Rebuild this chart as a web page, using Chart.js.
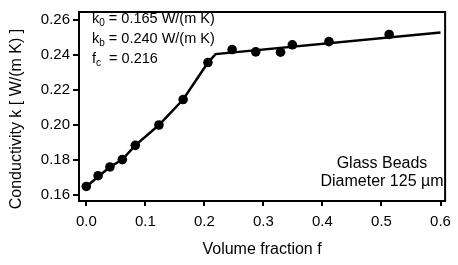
<!DOCTYPE html>
<html>
<head>
<meta charset="utf-8">
<script src="https://cdn.jsdelivr.net/npm/chart.js@4/dist/chart.umd.min.js"></script>
<style>
  html, body { margin: 0; padding: 0; background: #fff; }
  #wrap { width: 458px; height: 265px; }
</style>
</head>
<body>
<div id="wrap"><canvas id="c" width="458" height="265"></canvas></div>
<script>
// Measured data points: volume fraction f and conductivity k [W/(m K)]
const pointF = [0.000, 0.020, 0.040, 0.061, 0.083, 0.123, 0.164, 0.206, 0.247, 0.287, 0.329, 0.349, 0.411, 0.513];
const pointK = [0.1650, 0.1711, 0.1761, 0.1803, 0.1884, 0.2000, 0.2145, 0.2356, 0.2430, 0.2417, 0.2415, 0.2457, 0.2475, 0.2516];

// Model curve
const curveF = [0.000, 0.040, 0.061, 0.083, 0.123, 0.164, 0.206, 0.219, 0.600];
const curveK = [0.1650, 0.1761, 0.1803, 0.1884, 0.2000, 0.2145, 0.2356, 0.2404, 0.2527];

// Tick labels
const xTicks = [0.0, 0.1, 0.2, 0.3, 0.4, 0.5, 0.6];
const yTicks = [0.16, 0.18, 0.20, 0.22, 0.24, 0.26];

// Text
const xTitle = 'Volume fraction f';
const yTitle = 'Conductivity k [ W/(m K) ]';
const annoLines = [
  ['k', '0', ' = 0.165 W/(m K)'],
  ['k', 'b', ' = 0.240 W/(m K)'],
  ['f', 'c', '  = 0.216']
];
const sampleLines = ['Glass Beads', 'Diameter 125 µm'];

const FONT = '"Liberation Sans", Arial, Helvetica, sans-serif';

const toXY = (xs, ys) => xs.map((x, i) => ({ x: x, y: ys[i] }));

const overlay = {
  id: 'overlay',
  afterDraw(chart) {
    const ctx = chart.ctx;
    const a = chart.chartArea;
    ctx.save();
    // frame
    ctx.strokeStyle = '#000';
    ctx.lineWidth = 2;
    ctx.strokeRect(a.left, a.top, a.right - a.left, a.bottom - a.top);
    ctx.fillStyle = '#000';
    // y title
    ctx.save();
    ctx.translate(17, 119);
    ctx.rotate(-Math.PI / 2);
    ctx.font = '16px ' + FONT;
    ctx.textAlign = 'center';
    ctx.textBaseline = 'middle';
    ctx.fillText(yTitle, 0, 0);
    ctx.restore();
    // annotation lines with subscripts
    const baselines = [23, 43, 63];
    annoLines.forEach((ln, i) => {
      let x = a.left + 13;
      const y = baselines[i];
      ctx.textAlign = 'left';
      ctx.textBaseline = 'alphabetic';
      ctx.font = '14.5px ' + FONT;
      ctx.fillText(ln[0], x, y);
      x += ctx.measureText(ln[0]).width;
      ctx.font = '10px ' + FONT;
      ctx.fillText(ln[1], x, y + 3);
      x += ctx.measureText(ln[1]).width;
      ctx.font = '14.5px ' + FONT;
      ctx.fillText(ln[2], x, y);
    });
    // sample description
    ctx.font = '16px ' + FONT;
    ctx.textAlign = 'center';
    ctx.textBaseline = 'alphabetic';
    ctx.fillText(sampleLines[0], 382, 168);
    ctx.fillText(sampleLines[1], 382, 186);
    ctx.restore();
  }
};

new Chart(document.getElementById('c'), {
  type: 'scatter',
  data: {
    datasets: [
      {
        label: 'points',
        data: toXY(pointF, pointK),
        showLine: false,
        pointRadius: 4.8,
        pointBorderWidth: 0,
        pointBackgroundColor: '#000',
        pointBorderColor: '#000',
        order: 0
      },
      {
        label: 'model',
        data: toXY(curveF, curveK),
        showLine: true,
        borderColor: '#000',
        borderWidth: 2.5,
        pointRadius: 0,
        tension: 0,
        order: 1
      }
    ]
  },
  options: {
    responsive: false,
    animation: false,
    devicePixelRatio: 1,
    layout: { padding: { top: 5, right: 5, left: 0, bottom: 0 } },
    plugins: { legend: { display: false }, tooltip: { enabled: false } },
    scales: {
      x: {
        type: 'linear',
        min: -0.0124,
        max: 0.6078,
        afterFit(s) { s.height = 64; },
        afterBuildTicks(s) { s.ticks = xTicks.map(v => ({ value: v })); },
        grid: { display: true, drawOnChartArea: false, drawTicks: true, tickLength: 5, color: '#000', lineWidth: 2 },
        border: { display: true, color: '#000', width: 2 },
        ticks: {
          color: '#000',
          font: { size: 15, family: FONT },
          padding: 7,
          maxRotation: 0,
          callback: v => Number(v).toFixed(1)
        },
        title: {
          display: true,
          text: xTitle,
          color: '#000',
          font: { size: 16, family: FONT },
          padding: { top: 0, bottom: 6 }
        }
      },
      y: {
        type: 'linear',
        min: 0.1567,
        max: 0.2644,
        afterFit(s) { s.width = 79; },
        afterBuildTicks(s) { s.ticks = yTicks.map(v => ({ value: v })); },
        grid: { display: true, drawOnChartArea: false, drawTicks: true, tickLength: 6, color: '#000', lineWidth: 2 },
        border: { display: true, color: '#000', width: 2 },
        ticks: {
          color: '#000',
          font: { size: 15, family: FONT },
          padding: 3,
          callback: v => Number(v).toFixed(2)
        }
      }
    }
  },
  plugins: [overlay]
});
</script>
</body>
</html>
